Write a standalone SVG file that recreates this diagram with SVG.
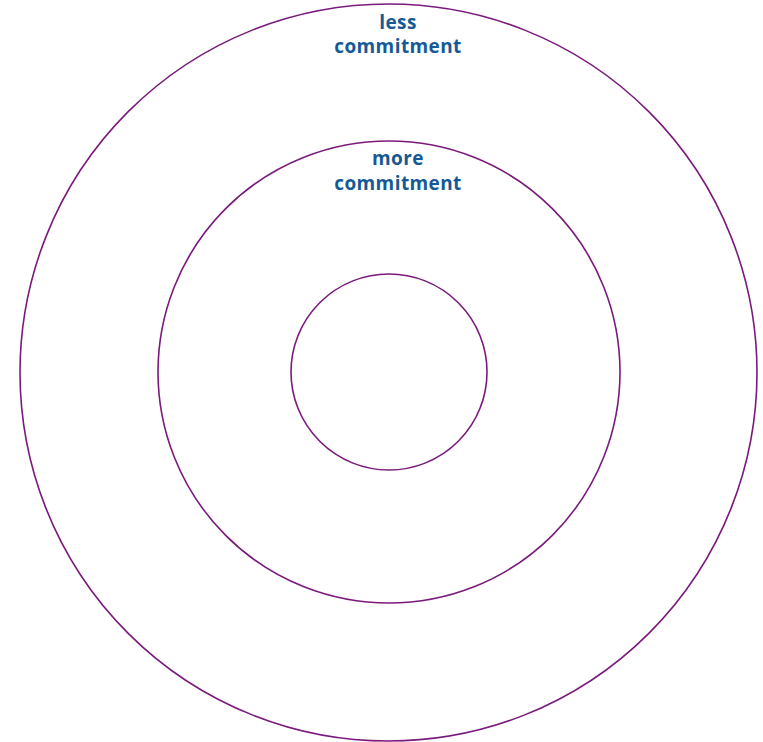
<svg xmlns="http://www.w3.org/2000/svg" width="763" height="742" viewBox="0 0 763 742">
<style>
.ring{fill:none;stroke:#7a1a7c;stroke-width:1.6}
.lbl{font-family:"Open Sans","DejaVu Sans",sans-serif;font-weight:700;font-size:19px;letter-spacing:0.4px;fill:#155a96;text-anchor:middle}
</style>
<rect width="763" height="742" fill="#ffffff"/>
<g id="outer-ring"><circle class="ring" cx="388.5" cy="372.5" r="368.5"/></g>
<g id="middle-ring"><circle class="ring" cx="389" cy="372" r="231"/></g>
<g id="inner-ring"><circle class="ring" cx="389" cy="372" r="98"/></g>
<g id="label-less"><text class="lbl" x="398" y="29">less</text><text class="lbl" x="398" y="53">commitment</text></g>
<g id="label-more"><text class="lbl" x="398" y="165">more</text><text class="lbl" x="398" y="190">commitment</text></g>
<g id="connectors"></g>
</svg>
